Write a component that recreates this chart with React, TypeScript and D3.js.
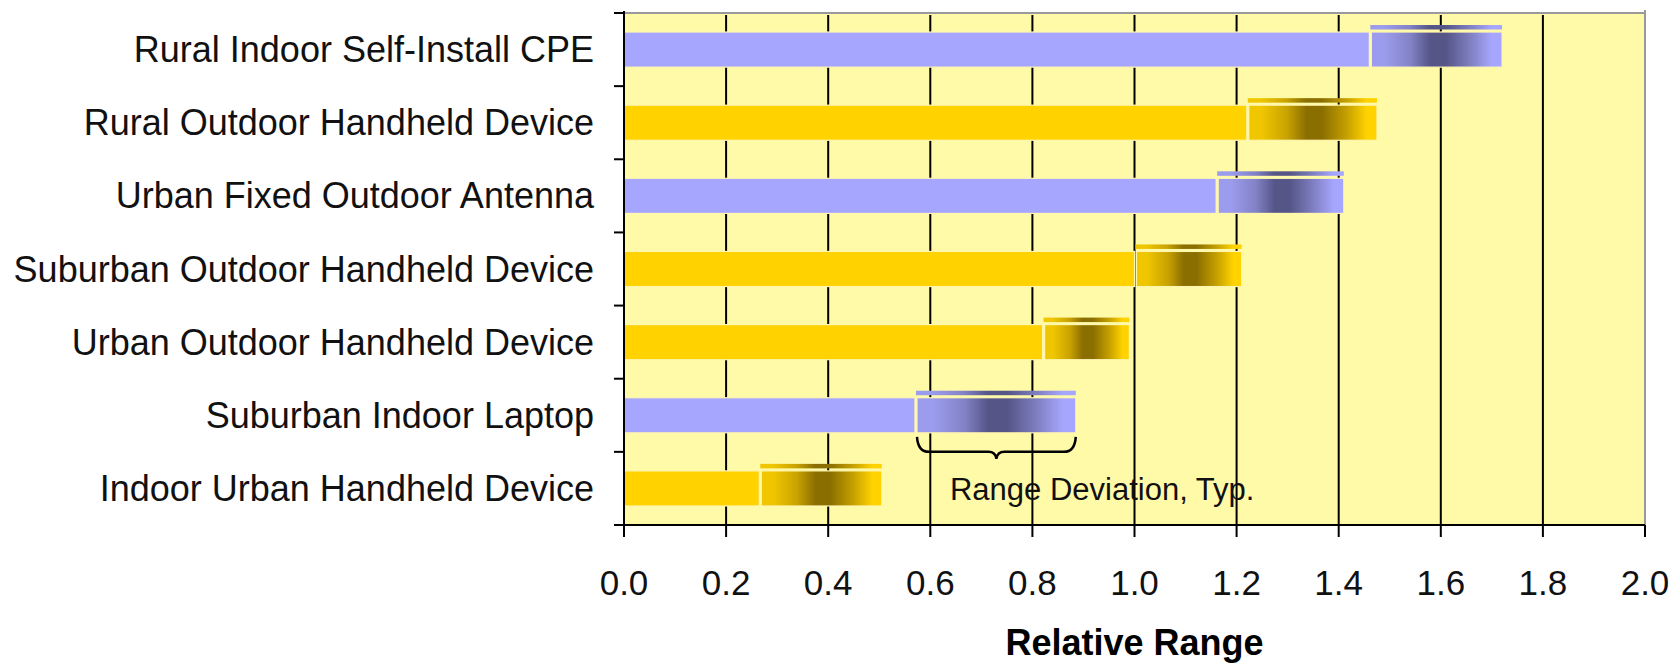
import React from "react";
import * as d3 from "d3";

const categories = [
  "Rural Indoor Self-Install CPE",
  "Rural Outdoor Handheld Device",
  "Urban Fixed Outdoor Antenna",
  "Suburban Outdoor Handheld Device",
  "Urban Outdoor Handheld Device",
  "Suburban Indoor Laptop",
  "Indoor Urban Handheld Device",
];
const baseRange = [1.46, 1.22, 1.16, 1.0, 0.82, 0.57, 0.265];
const maxRange = [1.72, 1.475, 1.41, 1.21, 0.99, 0.885, 0.505];
const barKind = ["blue", "gold", "blue", "gold", "gold", "blue", "gold"];
const xTicks = [0, 0.2, 0.4, 0.6, 0.8, 1.0, 1.2, 1.4, 1.6, 1.8, 2.0];
const xTitle = "Relative Range";
const annotationText = "Range Deviation, Typ.";
const annotationRow = 5;

const W = 1678;
const H = 664;
const L = 624;
const R = 1645;
const T = 13;
const B = 525;

const palette: Record<string, { light: string; dark: string; mid: string; edge: string }> = {
  blue: { light: "#A6A6FF", edge: "#9C9CEE", mid: "#8282C6", dark: "#555588" },
  gold: { light: "#FFD200", edge: "#F0C600", mid: "#C8A200", dark: "#8A6E00" },
};

export default function App() {
  const x = d3.scaleLinear().domain([0, 2]).range([L, R]);
  const y = d3
    .scaleBand<string>()
    .domain(categories)
    .range([T, B])
    .paddingInner(0.52)
    .paddingOuter(0.26);
  const step = y.step();
  const bw = y.bandwidth();
  const font = "'Liberation Sans', Arial, sans-serif";

  const annCat = categories[annotationRow];
  const ax0 = x(baseRange[annotationRow]) + 2;
  const ax1 = x(maxRange[annotationRow]);
  const ay = (y(annCat) as number) + bw;
  const amid = (ax0 + ax1) / 2;
  const braceTop = ay + 4;
  const braceLine = ay + 19;
  const bracePath = d3.path();
  bracePath.moveTo(ax0, braceTop);
  bracePath.quadraticCurveTo(ax0 + 1, braceLine, ax0 + 12, braceLine);
  bracePath.lineTo(amid - 8, braceLine);
  bracePath.quadraticCurveTo(amid - 1, braceLine, amid, braceLine + 7);
  bracePath.quadraticCurveTo(amid + 1, braceLine, amid + 8, braceLine);
  bracePath.lineTo(ax1 - 12, braceLine);
  bracePath.quadraticCurveTo(ax1 - 1, braceLine, ax1, braceTop);

  return (
    <div style={{ position: "absolute", left: 0, top: 0 }}>
      <svg width={W} height={H} style={{ display: "block", background: "#fff" }}>
        <defs>
          {Object.keys(palette).map((k) => (
            <linearGradient key={k} id={`dev-${k}`} x1="0" x2="1" y1="0" y2="0">
              <stop offset="0" stopColor={palette[k].edge} />
              <stop offset="0.1" stopColor={palette[k].edge} />
              <stop offset="0.3" stopColor={palette[k].mid} />
              <stop offset="0.45" stopColor={palette[k].dark} />
              <stop offset="0.57" stopColor={palette[k].dark} />
              <stop offset="0.77" stopColor={palette[k].mid} />
              <stop offset="0.92" stopColor={palette[k].light} />
              <stop offset="1" stopColor={palette[k].light} />
            </linearGradient>
          ))}
        </defs>
        {/* plot background */}
        <rect x={L} y={T} width={R - L} height={B - T} fill="#FFFAA8" />
        {/* gridlines */}
        {xTicks.slice(1, -1).map((t) => (
          <line key={t} x1={x(t)} x2={x(t)} y1={T + 2} y2={B} stroke="#000" strokeWidth={2} />
        ))}
        {/* bars */}
        {categories.map((c, i) => {
          const y0 = y(c) as number;
          const k = barKind[i];
          const xb = x(baseRange[i]);
          const xm = x(maxRange[i]);
          return (
            <g key={c}>
              <rect x={L} y={y0} width={xb - L} height={bw} fill={palette[k].light} stroke="#FFF6B0" strokeWidth={1.2} />
              <rect x={xb + 1} y={y0 - 7} width={xm - xb - 1} height={4.5} fill={`url(#dev-${k})`} />
              <rect x={xb + 2} y={y0} width={xm - xb - 2} height={bw} fill={`url(#dev-${k})`} stroke="#FFF6B0" strokeWidth={1.2} />
            </g>
          );
        })}
        {/* frame */}
        <line x1={L} x2={R} y1={T} y2={T} stroke="#9a9a9a" strokeWidth={2} />
        <line x1={R} x2={R} y1={T - 3} y2={B} stroke="#9a9a9a" strokeWidth={2} />
        <line x1={L} x2={L} y1={T - 2} y2={B + 1} stroke="#000" strokeWidth={2} />
        <line x1={L - 10} x2={R} y1={B} y2={B} stroke="#000" strokeWidth={2} />
        {/* y ticks */}
        {d3.range(categories.length + 1).map((i) => (
          <line key={i} x1={L - 10} x2={L} y1={T + i * step} y2={T + i * step} stroke="#000" strokeWidth={2} />
        ))}
        {/* x ticks */}
        {xTicks.map((t) => (
          <line key={t} x1={x(t)} x2={x(t)} y1={B} y2={B + 12} stroke="#000" strokeWidth={2} />
        ))}
        {/* category labels */}
        {categories.map((c) => (
          <text
            key={c}
            x={L - 30}
            y={(y(c) as number) + bw / 2}
            dy="0.35em"
            textAnchor="end"
            fontFamily={font}
            fontSize={36}
            fill="#111"
          >
            {c}
          </text>
        ))}
        {/* x tick labels */}
        {xTicks.map((t) => (
          <text
            key={t}
            x={x(t)}
            y={583}
            dy="0.35em"
            textAnchor="middle"
            fontFamily={font}
            fontSize={35}
            fill="#111"
          >
            {t.toFixed(1)}
          </text>
        ))}
        <text
          x={(L + R) / 2}
          y={655}
          textAnchor="middle"
          fontFamily={font}
          fontSize={36}
          fontWeight="bold"
          fill="#000"
        >
          {xTitle}
        </text>
        {/* annotation */}
        <path d={bracePath.toString()} fill="none" stroke="#000" strokeWidth={2.5} />
        <text x={ax0 + 33} y={489} dy="0.35em" fontFamily={font} fontSize={31} fill="#111">
          {annotationText}
        </text>
      </svg>
    </div>
  );
}
